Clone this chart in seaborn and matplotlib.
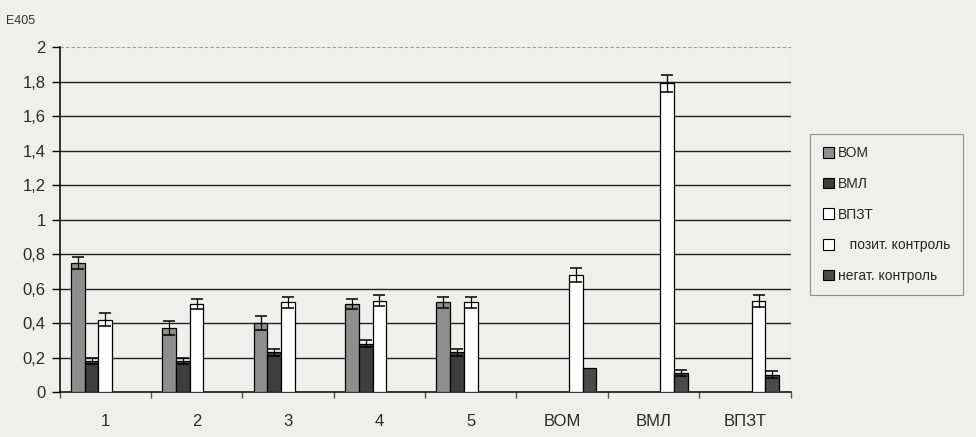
import numpy as np
import pandas as pd
import matplotlib
matplotlib.use('Agg')
import matplotlib.pyplot as plt
import seaborn as sns
from matplotlib.patches import Patch
from matplotlib.ticker import FuncFormatter

# data
groups = ['1', '2', '3', '4', '5', 'ВОМ', 'ВМЛ', 'ВПЗТ']
series = ['ВОМ', 'ВМЛ', 'ВПЗТ', 'позит. контроль', 'негат. контроль']

vom = [0.75, 0.37, 0.40, 0.51, 0.52, None, None, None]
vml = [0.18, 0.18, 0.23, 0.28, 0.23, None, None, None]
vpzt = [0.42, 0.51, 0.52, 0.53, 0.52, None, None, None]
poz = [None, None, None, None, None, 0.68, 1.79, 0.53]
neg = [None, None, None, None, None, 0.14, 0.11, 0.10]

vom_err = [0.035, 0.04, 0.04, 0.03, 0.03, None, None, None]
vml_err = [0.02, 0.02, 0.02, 0.02, 0.02, None, None, None]
vpzt_err = [0.04, 0.03, 0.03, 0.03, 0.03, None, None, None]
poz_err = [None, None, None, None, None, 0.04, 0.05, 0.035]
neg_err = [None, None, None, None, None, 0.0, 0.02, 0.02]

colors = ['#8e8e8e', '#3d3d3d', '#ffffff', '#ffffff', '#4a4a4a']

rows = []
for s, vals, errs in zip(series, [vom, vml, vpzt, poz, neg],
                         [vom_err, vml_err, vpzt_err, poz_err, neg_err]):
    for g, v, e in zip(groups, vals, errs):
        if v is not None:
            rows.append({'group': g, 'series': s, 'value': v, 'err': e})
df = pd.DataFrame(rows)

sns.set_style('white')
plt.rcParams['font.family'] = ['Liberation Sans Narrow', 'Liberation Sans', 'DejaVu Sans']
bg = '#efefec'

fig = plt.figure(figsize=(9.76, 4.37), dpi=100, facecolor=bg)
ax = fig.add_axes([0.061, 0.103, 0.749, 0.789])
ax.set_facecolor(bg)

sns.barplot(data=df, x='group', y='value', hue='series', order=groups,
            hue_order=series, palette=colors, width=0.75, edgecolor='black',
            linewidth=0.9, errorbar=None, legend=False, ax=ax, zorder=3)

# error bars on top of every bar
err_lookup = {(r.group, r.series): r.err for r in df.itertuples()}
for s, cont in zip(series, ax.containers):
    for bar in cont:
        h = bar.get_height()
        if np.isnan(h):
            continue
        xc = bar.get_x() + bar.get_width() / 2
        g = groups[int(round(xc))]
        e = err_lookup.get((g, s))
        if e:
            ax.errorbar(xc, h, yerr=e, fmt='none', ecolor='black',
                        elinewidth=0.9, capsize=4, capthick=1.1, zorder=4)

# horizontal grid lines
for yv in np.arange(0.2, 1.9, 0.2):
    ax.axhline(yv, color='#222222', lw=1.0, zorder=1)
ax.axhline(2, color='#9a9a9a', lw=0.8, ls=(0, (3, 2)), zorder=1)

ax.set_ylim(0, 2)
ax.set_xlim(-0.5, len(groups) - 0.5)
ax.set_yticks(np.arange(0, 2.01, 0.2))


def comma(v, pos):
    if abs(v - round(v)) < 1e-6:
        return str(int(round(v)))
    return ('%.1f' % v).replace('.', ',')


ax.yaxis.set_major_formatter(FuncFormatter(comma))
ax.tick_params(axis='y', length=6, width=1, color='black', direction='out',
               labelsize=12, pad=4, left=True, labelcolor='#2a2a2a')
ax.set_xticks(range(len(groups)))
ax.set_xticklabels(groups)
ax.tick_params(axis='x', which='major', length=0, labelsize=12, pad=16,
               labelcolor='#2a2a2a')
ax.set_xticks(np.arange(-0.5, len(groups)), minor=True)
ax.tick_params(axis='x', which='minor', length=4, width=1, color='#555555',
               direction='out', bottom=True)

for side in ['top', 'right']:
    ax.spines[side].set_visible(False)
ax.spines['left'].set_color('black')
ax.spines['bottom'].set_color('black')
ax.spines['left'].set_linewidth(1.1)
ax.spines['bottom'].set_linewidth(1.1)
ax.axvline(len(groups) - 0.5, color='#bbbbbb', lw=0.8, zorder=1)

ax.set_xlabel('')
ax.set_ylabel('')
fig.text(0.006, 0.945, 'E405', fontsize=9, color='#333333')

handles = [Patch(facecolor=c, edgecolor='black', linewidth=0.8) for c in colors]
labels = ['ВОМ', 'ВМЛ', 'ВПЗТ', '   позит. контроль', 'негат. контроль']
leg = fig.legend(handles, labels, loc='upper left',
                 bbox_to_anchor=(0.823, 0.71), frameon=True, fontsize=10,
                 handlelength=0.8, handleheight=0.8, handletextpad=0.3,
                 labelspacing=1.2, borderpad=0.9, fancybox=False)
leg.get_frame().set_edgecolor('#777777')
leg.get_frame().set_facecolor(bg)
leg.get_frame().set_linewidth(0.8)

fig.savefig('out.png', dpi=100, facecolor=bg)
